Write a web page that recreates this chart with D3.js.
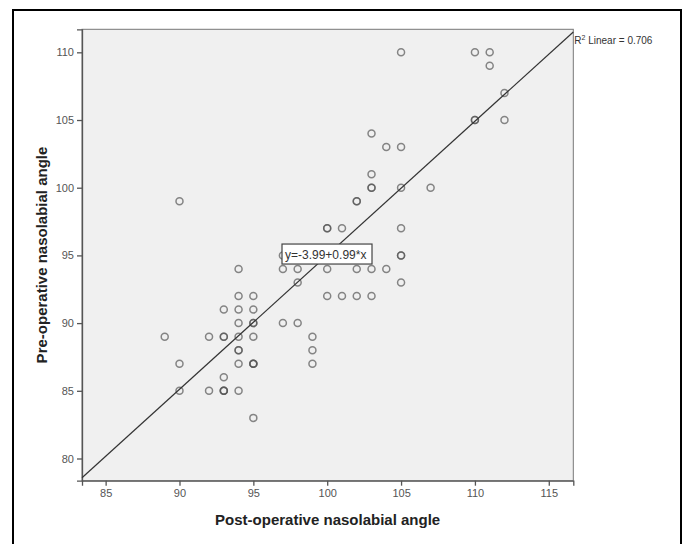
<!DOCTYPE html>
<html>
<head>
<meta charset="utf-8">
<script src="https://cdnjs.cloudflare.com/ajax/libs/d3/7.8.5/d3.min.js"></script>
<style>
    body { margin: 0; background: #fff; }
    svg { display: block; font-family: "Liberation Sans", Arial, sans-serif; }
</style>
</head>
<body>
<svg id="chart" width="686" height="544"></svg>
<script>
// post-operative angle (x) and pre-operative angle (y), duplicates kept
var postOp = [90, 90, 90, 89, 92, 92, 93, 93, 93, 93, 93, 93, 93,
    94, 94, 94, 94, 94, 94, 94, 94, 94, 95, 95, 95, 95, 95, 95, 95, 95, 95,
    97, 97, 97, 98, 98, 98, 99, 99, 99, 100, 100, 100, 100, 101, 101,
    102, 102, 102, 102, 103, 103, 103, 103, 103, 103, 104, 104,
    105, 105, 105, 105, 105, 105, 105, 107, 110, 110, 110, 111, 111, 112, 112];
var preOp = [99, 87, 85, 89, 89, 85, 91, 89, 89, 86, 85, 85, 85,
    94, 92, 91, 90, 89, 88, 88, 87, 85, 92, 91, 90, 90, 89, 87, 87, 83, 87,
    95, 94, 90, 94, 93, 90, 89, 88, 87, 97, 97, 94, 92, 97, 92,
    99, 99, 94, 92, 104, 101, 100, 100, 94, 92, 103, 94,
    110, 103, 100, 97, 95, 95, 93, 100, 110, 105, 105, 110, 109, 107, 105];
var xTicks = [85, 90, 95, 100, 105, 110, 115];
var yTicks = [80, 85, 90, 95, 100, 105, 110];
var fit = { intercept: -3.99, slope: 0.99, r2: 0.706 };

var svg = d3.select('#chart');

// outer frame of the figure
svg.append('rect')
    .attr('x', 13).attr('y', 10)
    .attr('width', 668).attr('height', 540)
    .attr('fill', 'none').attr('stroke', '#000').attr('stroke-width', 2);

var x = d3.scaleLinear().domain([83.4, 116.66]).range([82, 573.3]);
var y = d3.scaleLinear().domain([78.36, 111.7]).range([480.7, 29.3]);

svg.append('rect')
    .attr('x', x.range()[0]).attr('y', y.range()[1])
    .attr('width', x.range()[1] - x.range()[0])
    .attr('height', y.range()[0] - y.range()[1])
    .attr('fill', '#f0f0f0').attr('stroke', '#777').attr('stroke-width', 1);

var xAxis = svg.append('g')
    .attr('transform', 'translate(0,' + y.range()[0] + ')')
    .call(d3.axisBottom(x).tickValues(xTicks).tickSize(5).tickPadding(4));
var yAxis = svg.append('g')
    .attr('transform', 'translate(' + x.range()[0] + ',0)')
    .call(d3.axisLeft(y).tickValues(yTicks).tickSize(5).tickPadding(3));

[xAxis, yAxis].forEach(function(axis) {
    axis.select('.domain').attr('stroke', '#555').attr('stroke-width', 1.3);
    axis.selectAll('.tick line').attr('stroke', '#555').attr('stroke-width', 1.3);
    axis.selectAll('.tick text')
        .attr('fill', '#555')
        .style('font-size', '11px')
        .style('font-family', '"Liberation Sans", Arial, sans-serif');
});

// points
svg.append('g').selectAll('circle')
    .data(postOp.map(function(v, i) { return [v, preOp[i]]; }))
    .enter().append('circle')
    .attr('cx', function(d) { return x(d[0]); })
    .attr('cy', function(d) { return y(d[1]); })
    .attr('r', 3.5)
    .attr('fill', 'none')
    .attr('stroke', '#555')
    .attr('stroke-opacity', 0.7)
    .attr('stroke-width', 1.5);

// fit line across the x range
var xd = x.domain();
svg.append('line')
    .attr('x1', x(xd[0])).attr('y1', y(fit.intercept + fit.slope * xd[0]))
    .attr('x2', x(xd[1])).attr('y2', y(fit.intercept + fit.slope * xd[1]))
    .attr('stroke', '#333').attr('stroke-width', 1.2);

// R2 label at the end of the line
var r2 = svg.append('text')
    .attr('x', x(xd[1]) + 1)
    .attr('y', y(fit.intercept + fit.slope * xd[1]) + 12)
    .attr('fill', '#333')
    .style('font-size', '10px');
r2.append('tspan').text('R');
r2.append('tspan').attr('dy', -4).style('font-size', '7px').text('2');
r2.append('tspan').attr('dy', 4).text(' Linear = ' + fit.r2);

// equation box
var bx = x(96.94), by = y(95.84);
svg.append('rect')
    .attr('x', bx).attr('y', by)
    .attr('width', 90).attr('height', 20)
    .attr('fill', '#fff').attr('stroke', '#444').attr('stroke-width', 1.2);
svg.append('text')
    .attr('x', bx + 3).attr('y', by + 15)
    .attr('fill', '#333')
    .style('font-size', '12px')
    .text('y=' + fit.intercept + '+' + fit.slope + '*x');

// axis titles
svg.append('text')
    .attr('x', (x.range()[0] + x.range()[1]) / 2).attr('y', 525)
    .attr('text-anchor', 'middle')
    .attr('fill', '#222')
    .style('font-size', '15px').style('font-weight', 'bold')
    .text('Post-operative nasolabial angle');
svg.append('text')
    .attr('transform', 'translate(47,' + (y.range()[0] + y.range()[1]) / 2 + ') rotate(-90)')
    .attr('text-anchor', 'middle')
    .attr('fill', '#222')
    .style('font-size', '15px').style('font-weight', 'bold')
    .text('Pre-operative nasolabial angle');
</script>
</body>
</html>
